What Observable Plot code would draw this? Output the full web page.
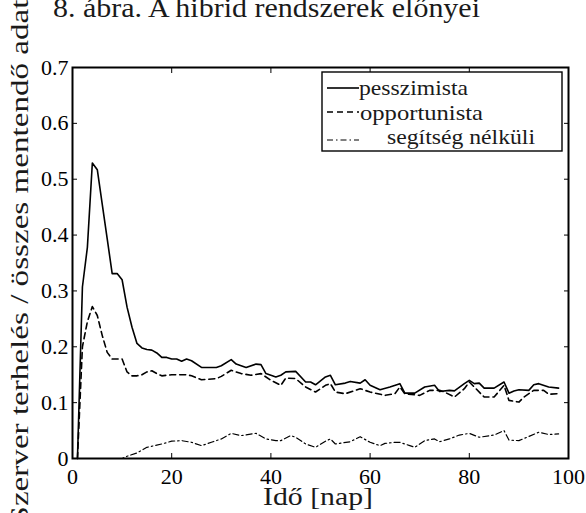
<!DOCTYPE html>
<html><head><meta charset="utf-8">
<script src="https://cdn.jsdelivr.net/npm/d3@7"></script>
<script src="https://cdn.jsdelivr.net/npm/@observablehq/plot@0.6"></script>
<style>
body{margin:0;background:#fff;}
#wrap{position:relative;width:586px;height:513px;overflow:hidden;}
#wrap svg{position:absolute;left:0;top:0;}
</style></head><body><div id="wrap"></div>
<script>
const titleText = "8. ábra. A hibrid rendszerek előnyei";
const xLabel = "Idő [nap]";
const yLabel = "Szerver terhelés / összes mentendő adat";
const seriesNames = ["pesszimista", "opportunista", "segítség nélküli"];

const xTicks = [0, 20, 40, 60, 80, 100];
const xTickLabels = ["0", "20", "40", "60", "80", "100"];
const yTicks = [0, 0.1, 0.2, 0.3, 0.4, 0.5, 0.6, 0.7];
const yTickLabels = ["0", "0.1", "0.2", "0.3", "0.4", "0.5", "0.6", "0.7"];

const pessDays = [1,2,3,4,5,6,7,8,9,10,11,12,13,14,15,16,17,18,19,20,21,22,23,24,26,29,30,32,33,35,37,38,39,41,42,43,45,47,48,49,51,52,53,55,56,58,59,60,62,64,66,67,69,71,73,74,76,77,79,80,81,82,83,85,87,88,89,90,92,93,94,96,98];
const pessVals = [0,0.307,0.378,0.529,0.517,0.455,0.393,0.331,0.331,0.320,0.271,0.235,0.206,0.198,0.195,0.194,0.189,0.181,0.181,0.178,0.178,0.174,0.178,0.175,0.163,0.163,0.166,0.177,0.169,0.163,0.169,0.168,0.152,0.146,0.149,0.155,0.156,0.137,0.137,0.132,0.146,0.149,0.132,0.135,0.138,0.135,0.141,0.131,0.123,0.128,0.134,0.117,0.117,0.128,0.131,0.120,0.122,0.121,0.134,0.140,0.134,0.135,0.126,0.126,0.137,0.117,0.121,0.123,0.122,0.132,0.134,0.128,0.126];

const oppDays = [1,2,3,4,5,6,7,8,10,11,12,13,14,15,16,17,18,20,22,23,24,26,29,30,32,34,36,38,40,42,43,45,47,49,51,52,53,55,58,60,63,65,66,67,70,72,74,75,77,79,80,81,83,85,87,88,90,91,93,95,96,98];
const oppVals = [0,0.200,0.245,0.272,0.256,0.220,0.190,0.178,0.178,0.155,0.148,0.148,0.150,0.155,0.157,0.152,0.148,0.150,0.150,0.150,0.148,0.141,0.143,0.147,0.158,0.152,0.149,0.152,0.140,0.131,0.144,0.143,0.128,0.119,0.131,0.134,0.119,0.116,0.125,0.119,0.113,0.116,0.128,0.116,0.113,0.122,0.122,0.119,0.110,0.125,0.137,0.128,0.110,0.110,0.131,0.104,0.101,0.110,0.122,0.122,0.115,0.116];

const noneDays = [1,10,11,13,15,18,20,22,24,26,28,30,32,34,37,39,41,42,44,45,47,49,51,52,53,56,58,60,62,63,65,66,68,69,71,73,74,76,78,80,82,85,87,88,90,94,96,98];
const noneVals = [0,0,0.004,0.010,0.020,0.026,0.031,0.032,0.029,0.023,0.029,0.035,0.045,0.041,0.045,0.035,0.032,0.032,0.041,0.038,0.026,0.020,0.031,0.035,0.026,0.030,0.039,0.029,0.023,0.027,0.029,0.029,0.023,0.020,0.032,0.035,0.030,0.035,0.042,0.045,0.038,0.042,0.050,0.033,0.032,0.047,0.043,0.044];

const toRows = (xs, ys) => xs.map((x, i) => ({x, y: ys[i]}));
const pess = toRows(pessDays, pessVals);
const opp = toRows(oppDays, oppVals);
const none = toRows(noneDays, noneVals);

const lineStyles = [
  {strokeDasharray: null},
  {strokeDasharray: "6,4"},
  {strokeDasharray: "6,3,1.5,3"}
];
const serif = "Liberation Serif";

const chart = Plot.plot({
  width: 586, height: 513,
  marginLeft: 72, marginRight: 18, marginTop: 67, marginBottom: 55,
  x: {domain: [0, 100]},
  y: {domain: [0, 0.7]},
  style: {fontSize: "22px", color: "black", background: "transparent", overflow: "visible"},
  marks: [
    Plot.line(pess, {x: "x", y: "y", stroke: "black", strokeWidth: 1.6}),
    Plot.line(opp, {x: "x", y: "y", stroke: "black", strokeWidth: 1.6, strokeDasharray: lineStyles[1].strokeDasharray}),
    Plot.line(none, {x: "x", y: "y", stroke: "black", strokeWidth: 1.2, strokeDasharray: lineStyles[2].strokeDasharray}),
    Plot.axisX({ticks: xTicks, tickSize: -5, tickPadding: 15, tickFormat: d => xTickLabels[xTicks.indexOf(d)], label: null, fontSize: 22}),
    Plot.axisX({anchor: "top", ticks: xTicks, tickSize: -5, tickFormat: () => "", label: null}),
    Plot.axisY({ticks: yTicks, tickSize: -5, tickPadding: 9, tickFormat: d => yTickLabels[yTicks.indexOf(d)], label: null, fontSize: 22}),
    Plot.axisY({anchor: "right", ticks: yTicks, tickSize: -5, tickFormat: () => "", label: null}),
    Plot.frame({stroke: "black", strokeWidth: 2})
  ]
});
d3.select(chart).selectAll("text").attr("font-family", serif).style("font-family", serif);
const wrap = document.getElementById("wrap");
wrap.appendChild(chart);

// overlay: title, axis labels, legend
const ov = d3.create("svg").attr("width", 586).attr("height", 513).style("overflow", "visible");
const addText = (sel) => sel.attr("font-family", serif).style("font-family", serif).attr("fill", "#1a1a1a").attr("lengthAdjust", "spacingAndGlyphs");
addText(ov.append("text").attr("x", 53).attr("y", 17).attr("font-size", 27).attr("textLength", 427)).text(titleText);
addText(ov.append("text").attr("transform", "translate(28,262) rotate(-90)").attr("text-anchor", "middle")
  .attr("font-size", 26).attr("textLength", 525)).text(yLabel);
addText(ov.append("text").attr("x", 318).attr("y", 505).attr("text-anchor", "middle")
  .attr("font-size", 26).attr("textLength", 110)).text(xLabel);

const lg = ov.append("g");
lg.append("rect").attr("x", 322).attr("y", 72).attr("width", 240).attr("height", 79)
  .attr("fill", "white").attr("stroke", "black").attr("stroke-width", 1.4);
const legRows = [
  {ly: 88, tx: 359, ty: 95, tl: 109},
  {ly: 112, tx: 360, ty: 120, tl: 123},
  {ly: 140, tx: 387, ty: 144, tl: 148}
];
legRows.forEach((r, i) => {
  lg.append("line").attr("x1", 327).attr("x2", 359).attr("y1", r.ly).attr("y2", r.ly)
    .attr("stroke", "black").attr("stroke-width", i === 2 ? 1.2 : 1.6)
    .attr("stroke-dasharray", lineStyles[i].strokeDasharray);
  addText(lg.append("text").attr("x", r.tx).attr("y", r.ty).attr("font-size", 21).attr("textLength", r.tl)).text(seriesNames[i]);
});
wrap.appendChild(ov.node());
</script></body></html>
